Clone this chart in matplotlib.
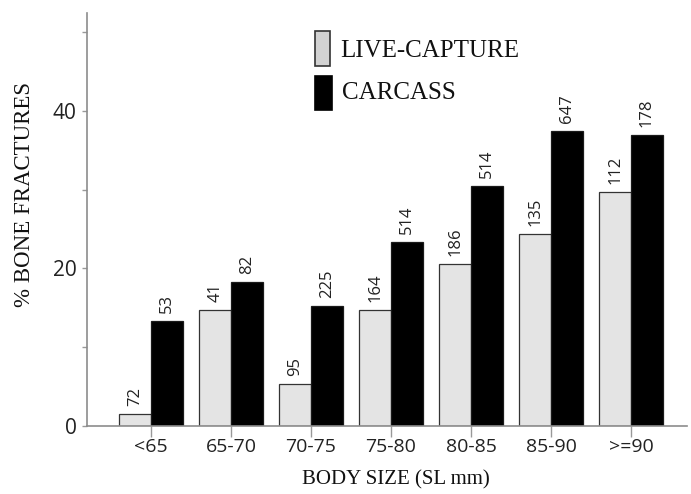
import matplotlib
matplotlib.use("Agg")
import matplotlib.pyplot as plt
import numpy as np
from matplotlib.patches import Rectangle

categories = ["<65", "65-70", "70-75", "75-80", "80-85", "85-90", ">=90"]
live_pct = [1.5, 14.7, 5.3, 14.7, 20.5, 24.4, 29.7]
carcass_pct = [13.3, 18.3, 15.2, 23.3, 30.4, 37.5, 37.0]
live_n = [72, 41, 95, 164, 186, 135, 112]
carcass_n = [53, 82, 225, 514, 514, 647, 178]
series_names = ["LIVE-CAPTURE", "CARCASS"]
yticks_major = [0, 20, 40]
yticks_minor = [10, 30, 50]

W, H = 691, 494
fig = plt.figure(figsize=(W / 100, H / 100), dpi=100)
ax = fig.add_axes([87 / W, 68.5 / H, 600 / W, 412.8 / H])

x = np.arange(len(categories))
w = 0.394
serif = ["Liberation Serif", "DejaVu Serif"]
sans = ["Open Sans", "DejaVu Sans"]

live_face, live_edge = "#e4e4e4", "#333333"
carc_face, carc_edge = "#000000", "#1a1a1a"

b1 = ax.bar(x - w / 2, live_pct, w, color=live_face, edgecolor=live_edge, linewidth=0.9, zorder=2)
b2 = ax.bar(x + w / 2, carcass_pct, w, color=carc_face, edgecolor=carc_edge, linewidth=0.9, zorder=2)

for bars, ns in ((b1, live_n), (b2, carcass_n)):
    for r, n in zip(bars, ns):
        ax.annotate(str(n), (r.get_x() + r.get_width() / 2, r.get_height()),
                    xytext=(0, 8), textcoords="offset pixels", rotation=90,
                    ha="center", va="bottom", fontsize=12, family=sans, color="#222222")

ax.set_xlim(-0.8, 6.7)
ax.set_ylim(0, 52.5)
ax.set_xticks(x)
ax.set_xticklabels(categories, fontsize=14, family=sans, color="#222222")
ax.set_yticks(yticks_major)
ax.set_yticklabels([str(v) for v in yticks_major], fontsize=15, family=sans, color="#222222")
ax.set_yticks(yticks_minor, minor=True)
ax.tick_params(axis="x", length=8, width=1, color="#999999", pad=1)
ax.tick_params(axis="y", which="both", length=3.5, width=1, color="#999999", pad=4)

for s in ("top", "right"):
    ax.spines[s].set_visible(False)
for s in ("left", "bottom"):
    ax.spines[s].set_color("#8c8c8c")
    ax.spines[s].set_linewidth(1.2)

fig.text(396 / W, 1 - 480 / H, "BODY SIZE (SL mm)", ha="center", va="center",
         fontsize=15, family=serif, color="#111111")
fig.text(25 / W, 1 - 194 / H, "% BONE FRACTURES", ha="center", va="center",
         rotation=90, fontsize=16.5, family=serif, color="#111111")

# legend drawn in figure pixel space
leg_items = [
    (series_names[0], "#d2d2d2", live_edge, (315, 31, 15, 35), (340, 57.3)),
    (series_names[1], carc_face, carc_face, (315, 76, 16.5, 34.5), (342, 99.3)),
]
for label, fc, ec, (px, py, pw, ph), (tx, ty) in leg_items:
    fig.add_artist(Rectangle((px / W, 1 - (py + ph) / H), pw / W, ph / H,
                             transform=fig.transFigure, facecolor=fc,
                             edgecolor=ec, linewidth=1.2))
    fig.text(tx / W, 1 - ty / H, label, ha="left", va="baseline",
             fontsize=18, family=serif, color="#111111")

fig.savefig("out.png", dpi=100)
